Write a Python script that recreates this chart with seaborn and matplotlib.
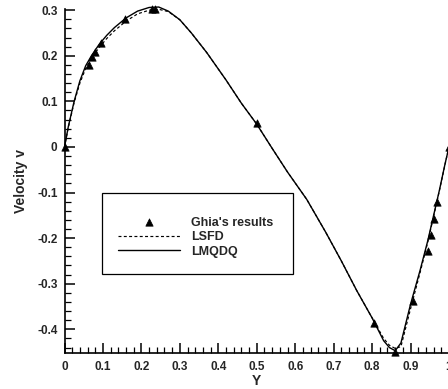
import numpy as np
import pandas as pd
import matplotlib
matplotlib.use("Agg")
import matplotlib.pyplot as plt
import seaborn as sns
from matplotlib.patches import Rectangle
from matplotlib.ticker import MultipleLocator

# ---------------- data ----------------
ghia_x = [0.0, 0.0625, 0.0703, 0.0781, 0.0938, 0.1563, 0.2266, 0.2344, 0.5,
          0.8047, 0.8594, 0.9063, 0.9453, 0.9531, 0.9609, 0.9688, 1.0]
ghia_v = [0.0, 0.180, 0.197, 0.209, 0.229, 0.280, 0.302, 0.302, 0.052,
          -0.386, -0.450, -0.338, -0.228, -0.193, -0.157, -0.121, 0.0]

lmqdq_x = [0, 0.01, 0.025, 0.04, 0.055, 0.07, 0.09, 0.11, 0.13, 0.16, 0.19, 0.22,
           0.245, 0.27, 0.30, 0.33, 0.37, 0.42, 0.46, 0.50, 0.54, 0.58, 0.63, 0.68,
           0.72, 0.76, 0.80, 0.83, 0.845, 0.86, 0.875, 0.90, 0.925, 0.945, 0.96,
           0.975, 0.99, 1.0]
lmqdq_v = [0, 0.045, 0.100, 0.145, 0.178, 0.200, 0.225, 0.245, 0.262, 0.283, 0.298,
           0.306, 0.307, 0.298, 0.279, 0.250, 0.207, 0.147, 0.096, 0.050, -0.003,
           -0.055, -0.115, -0.188, -0.250, -0.315, -0.375, -0.425, -0.440, -0.447,
           -0.430, -0.345, -0.270, -0.205, -0.150, -0.095, -0.036, 0]

lsfd_x = [0, 0.01, 0.025, 0.04, 0.055, 0.07, 0.09, 0.11, 0.13, 0.16, 0.19, 0.22,
          0.245, 0.27, 0.30, 0.33, 0.37, 0.42, 0.46, 0.50, 0.54, 0.58, 0.63, 0.68,
          0.72, 0.76, 0.80, 0.83, 0.845, 0.86, 0.875, 0.90, 0.925, 0.945, 0.96,
          0.975, 0.99, 1.0]
lsfd_v = [0, 0.043, 0.097, 0.140, 0.172, 0.195, 0.218, 0.238, 0.255, 0.276, 0.292,
          0.300, 0.302, 0.297, 0.279, 0.250, 0.207, 0.147, 0.096, 0.050, -0.003,
          -0.055, -0.115, -0.188, -0.250, -0.315, -0.375, -0.420, -0.435, -0.442,
          -0.438, -0.355, -0.275, -0.208, -0.152, -0.096, -0.037, 0]

xticks = [0, 0.1, 0.2, 0.3, 0.4, 0.5, 0.6, 0.7, 0.8, 0.9, 1.0]
xtick_labels = ["0", "0.1", "0.2", "0.3", "0.4", "0.5", "0.6", "0.7", "0.8", "0.9", "1"]
yticks = [-0.4, -0.3, -0.2, -0.1, 0, 0.1, 0.2, 0.3]
ytick_labels = ["-0.4", "-0.3", "-0.2", "-0.1", "0", "0.1", "0.2", "0.3"]

# ---------------- style ----------------
sns.set_style("ticks")
plt.rcParams["font.family"] = ["Liberation Sans", "DejaVu Sans"]
plt.rcParams["font.weight"] = "bold"

W, H = 448, 389
fig = plt.figure(figsize=(W / 100, H / 100), dpi=100)
x0, x1 = 64.5, 449.0
ytop, ybot = 9.3, 353.0
ax = fig.add_axes([x0 / W, (H - ybot) / H, (x1 - x0) / W, (ybot - ytop) / H])

ghia = pd.DataFrame({"x": ghia_x, "v": ghia_v})
lsfd = pd.DataFrame({"x": lsfd_x, "v": lsfd_v})
lmq = pd.DataFrame({"x": lmqdq_x, "v": lmqdq_v})

sns.scatterplot(data=ghia, x="x", y="v", marker="^", s=28, color="black",
                edgecolor="black", linewidth=0.5, ax=ax, label="Ghia's results",
                legend=False, zorder=3, clip_on=False)
sns.lineplot(data=lsfd, x="x", y="v", color="black", lw=0.85, ax=ax,
             linestyle=(0, (2.5, 2.0)), label="LSFD", legend=False,
             sort=False, estimator=None)
sns.lineplot(data=lmq, x="x", y="v", color="black", lw=1.0, ax=ax,
             label="LMQDQ", legend=False, sort=False, estimator=None)
for ln in ax.lines:
    ln.set_clip_on(False)

ax.set_xlim(0, 1)
ax.set_ylim(-0.452, 0.302)
ax.set_xticks(xticks)
ax.set_xticklabels(xtick_labels)
ax.set_yticks(yticks)
ax.set_yticklabels(ytick_labels)
ax.xaxis.set_minor_locator(MultipleLocator(0.02))
ax.yaxis.set_minor_locator(MultipleLocator(0.02))
ax.tick_params(which="major", direction="in", length=7, width=1.1,
               labelsize=8.5, color="black", pad=5)
ax.tick_params(which="minor", direction="in", length=4, width=0.9, color="black")
ax.tick_params(axis="x", which="major", pad=6)
for lab in ax.get_xticklabels() + ax.get_yticklabels():
    lab.set_fontweight("bold")

ax.spines["top"].set_visible(False)
ax.spines["right"].set_visible(False)
for s in ("left", "bottom"):
    ax.spines[s].set_linewidth(1.2)
    ax.spines[s].set_color("black")

ax.set_xlabel("Y", fontsize=10, fontweight="bold")
ax.set_ylabel("Velocity v", fontsize=10, fontweight="bold")
ax.xaxis.set_label_coords(0.5, -0.06)
ax.yaxis.set_label_coords(-0.095, 0.5)

# legend
handles, labels = ax.get_legend_handles_labels()
order = [labels.index("Ghia's results"), labels.index("LSFD"), labels.index("LMQDQ")]
leg = ax.legend([handles[i] for i in order], [labels[i] for i in order],
                loc="center left", bbox_to_anchor=(118 / W, (H - 237) / H),
                bbox_transform=fig.transFigure, frameon=False, fontsize=9,
                handlelength=4.96, handletextpad=0.86, labelspacing=0.2,
                borderpad=0, borderaxespad=0, scatterpoints=1)
for t in leg.get_texts():
    t.set_fontweight("bold")

fig.patches.append(Rectangle((102 / W, (H - 274) / H), 191 / W, 81 / H,
                             transform=fig.transFigure, fill=False,
                             edgecolor="black", linewidth=0.9, zorder=5))

fig.savefig("out.png", dpi=100, facecolor="white")
